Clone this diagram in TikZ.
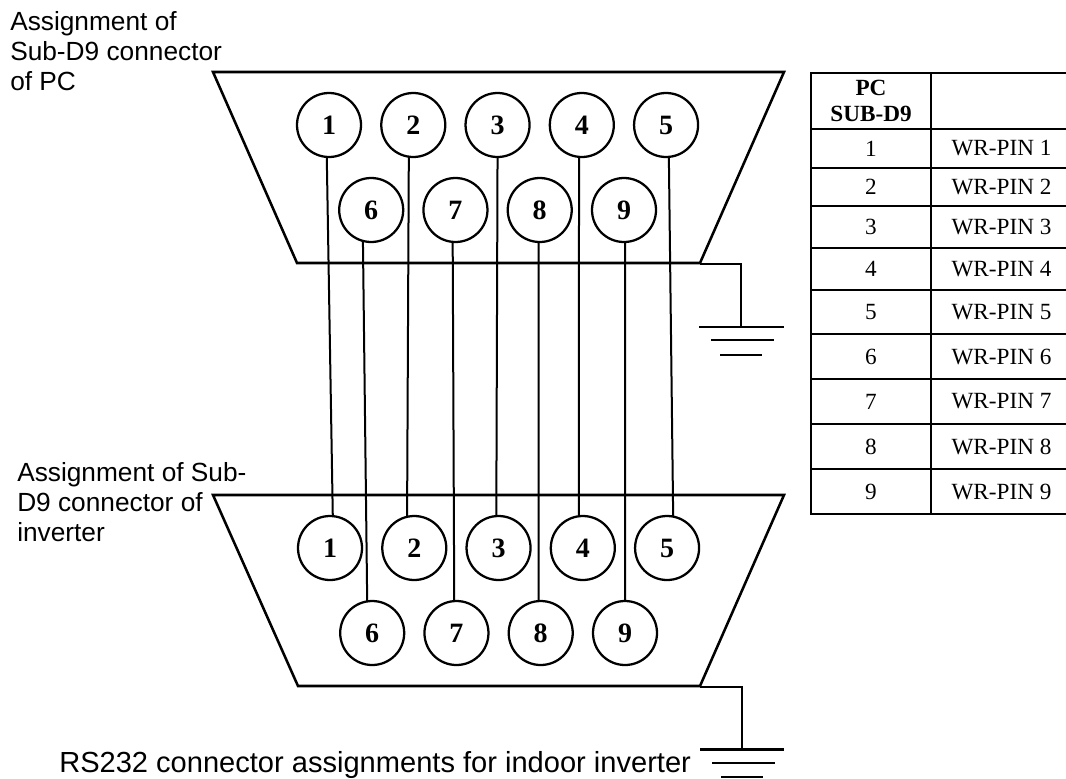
\documentclass[tikz,border=0pt]{standalone}
\usepackage{fontspec}
\setmainfont{Liberation Sans}
\newfontfamily\timesfont{Liberation Serif}
\usetikzlibrary{chains}
\usetikzlibrary{positioning}
\tikzset{
	pinhole/.style={
		circle, 
		draw=black, line width=1.7pt,
		minimum size=48pt, 
		inner sep=0pt, 
		outer sep=0pt,
		font=\timesfont\bfseries\fontsize{21}{24}\selectfont,
		on chain},
	shell/.style={draw=black, line width=1.9pt, line join=miter},
	wire/.style={draw=black, line width=1.5pt},
	earth/.style={draw=black, line width=1.9pt},
	caption/.style={
		inner sep=0pt, 
		align=left,
		font=\fontsize{19.7}{22.6}\selectfont},
	pccell/.style={
		rectangle, 
		draw=black, line width=1.9pt,
		minimum width=90pt, 
		inner sep=0pt, 
		outer sep=0pt,
		font=\timesfont\fontsize{17.4}{19}\selectfont},
	wrtext/.style={
		inner sep=0pt, 
		font=\timesfont\fontsize{17.4}{19}\selectfont},
	rowline/.style={draw=black, line width=1.9pt},
}

\begin{document}
\begin{tikzpicture}[x=0.75pt, y=-0.75pt, node distance=15.2pt]
		\useasboundingbox (0,0) rectangle (1066,778);

		% PC connector
		\coordinate (pctl) at (213,72);
		\coordinate (pctr) at (784,72);
		\coordinate (pcbr) at (700,263);
		\coordinate (pcbl) at (297,263);
		\draw[shell] (pctl) -- (pctr) -- (pcbr) -- (pcbl) -- cycle;
		\begin{scope}[start chain=pcupper going right]
			\node[pinhole] (pa1) at (329,125) {1};
			\node[pinhole] (pa2) {2};
			\node[pinhole] (pa3) {3};
			\node[pinhole] (pa4) {4};
			\node[pinhole] (pa5) {5};
		\end{scope}
		\begin{scope}[start chain=pclower going right]
			\node[pinhole] (pa6) at (371.2,210) {6};
			\node[pinhole] (pa7) {7};
			\node[pinhole] (pa8) {8};
			\node[pinhole] (pa9) {9};
		\end{scope}

		% inverter connector
		\coordinate (invtl) at (213,495);
		\coordinate (invtr) at (784,495);
		\coordinate (invbr) at (700,686);
		\coordinate (invbl) at (298,686);
		\draw[shell] (invtl) -- (invtr) -- (invbr) -- (invbl) -- cycle;
		\begin{scope}[start chain=invupper going right]
			\node[pinhole] (inv1) at (330,548) {1};
			\node[pinhole] (inv2) {2};
			\node[pinhole] (inv3) {3};
			\node[pinhole] (inv4) {4};
			\node[pinhole] (inv5) {5};
		\end{scope}
		\begin{scope}[start chain=invlower going right]
			\node[pinhole] (inv6) at (372.2,633) {6};
			\node[pinhole] (inv7) {7};
			\node[pinhole] (inv8) {8};
			\node[pinhole] (inv9) {9};
		\end{scope}

		% wires
		\draw[wire] (pa1.266) -- (inv1.85);
		\draw[wire] (pa2.262) -- (inv2.103);
		\draw[wire] (pa3.270) -- (inv3.94);
		\draw[wire] (pa4.265) -- (inv4.97);
		\draw[wire] (pa5.275) -- (inv5.79);
		\draw[wire] (pa6.255) -- (inv6.99);
		\draw[wire] (pa7.265) -- (inv7.94);
		\draw[wire] (pa8.268) -- (inv8.94);
		\draw[wire] (pa9.272) -- (inv9.90);

		% grounds
		\coordinate (tapa) at (700,264);
		\coordinate (gnda) at (741,327);
		\coordinate (tapb) at (700,687);
		\coordinate (gndb) at (742,749.5);
		\draw[earth] (tapa) -| (gnda);
		\draw[earth] (699,327) -- (784,327);
		\draw[earth] (711,340) -- (774,340);
		\draw[earth] (720,355) -- (762,355);
		\draw[earth] (tapb) -| (gndb);
		\draw[earth] (700,749.5) -- (784,749.5);
		\draw[earth] (712,763) -- (775,763);
		\draw[earth] (721,777) -- (763,777);

		% captions
		\node[caption, anchor=north west] (capa) at (10,11) {Assignment of\\Sub-D9 connector\\of PC};
		\node[caption, anchor=north west] (capb) at (17,462) {Assignment of Sub-\\D9 connector of\\inverter};
		\node[caption, anchor=base west, font=\fontsize{21.8}{25}\selectfont] (capc) at (59,772.5) {RS232 connector assignments for indoor inverter};

		% table
		\coordinate (tabright) at (1066,0);
		\node[pccell, minimum height=42pt, align=center, font=\timesfont\bfseries\fontsize{17.4}{20}\selectfont] (pc0) at (871,101) {PC\\SUB-D9};
		\node[pccell, minimum height=29.25pt] (pc1) at (871,148.5) {1};
		\node[pccell, minimum height=28.5pt] (pc2) at (871,187) {2};
		\node[pccell, minimum height=31.5pt] (pc3) at (871,227) {3};
		\node[pccell, minimum height=31.5pt] (pc4) at (871,269) {4};
		\node[pccell, minimum height=33pt] (pc5) at (871,312) {5};
		\node[pccell, minimum height=33.75pt] (pc6) at (871,356.5) {6};
		\node[pccell, minimum height=33.75pt] (pc7) at (871,401.5) {7};
		\node[pccell, minimum height=33.75pt] (pc8) at (871,446.5) {8};
		\node[pccell, minimum height=33.75pt] (pc9) at (871,491.5) {9};
		\node[wrtext] (wr1) at (1001.5,148.5) {WR-PIN 1};
		\node[wrtext] (wr2) at (1001.5,187) {WR-PIN 2};
		\node[wrtext] (wr3) at (1001.5,227) {WR-PIN 3};
		\node[wrtext] (wr4) at (1001.5,269) {WR-PIN 4};
		\node[wrtext] (wr5) at (1001.5,312) {WR-PIN 5};
		\node[wrtext] (wr6) at (1001.5,356.5) {WR-PIN 6};
		\node[wrtext] (wr7) at (1001.5,401.5) {WR-PIN 7};
		\node[wrtext] (wr8) at (1001.5,446.5) {WR-PIN 8};
		\node[wrtext] (wr9) at (1001.5,491.5) {WR-PIN 9};
		\draw[rowline] (pc0.north east) -- (pc0.north east -| tabright);
		\draw[rowline] (pc0.south east) -- (pc0.south east -| tabright);
		\draw[rowline] (pc1.south east) -- (pc1.south east -| tabright);
		\draw[rowline] (pc2.south east) -- (pc2.south east -| tabright);
		\draw[rowline] (pc3.south east) -- (pc3.south east -| tabright);
		\draw[rowline] (pc4.south east) -- (pc4.south east -| tabright);
		\draw[rowline] (pc5.south east) -- (pc5.south east -| tabright);
		\draw[rowline] (pc6.south east) -- (pc6.south east -| tabright);
		\draw[rowline] (pc7.south east) -- (pc7.south east -| tabright);
		\draw[rowline] (pc8.south east) -- (pc8.south east -| tabright);
		\draw[rowline] (pc9.south east) -- (pc9.south east -| tabright);
\end{tikzpicture}
\end{document}
